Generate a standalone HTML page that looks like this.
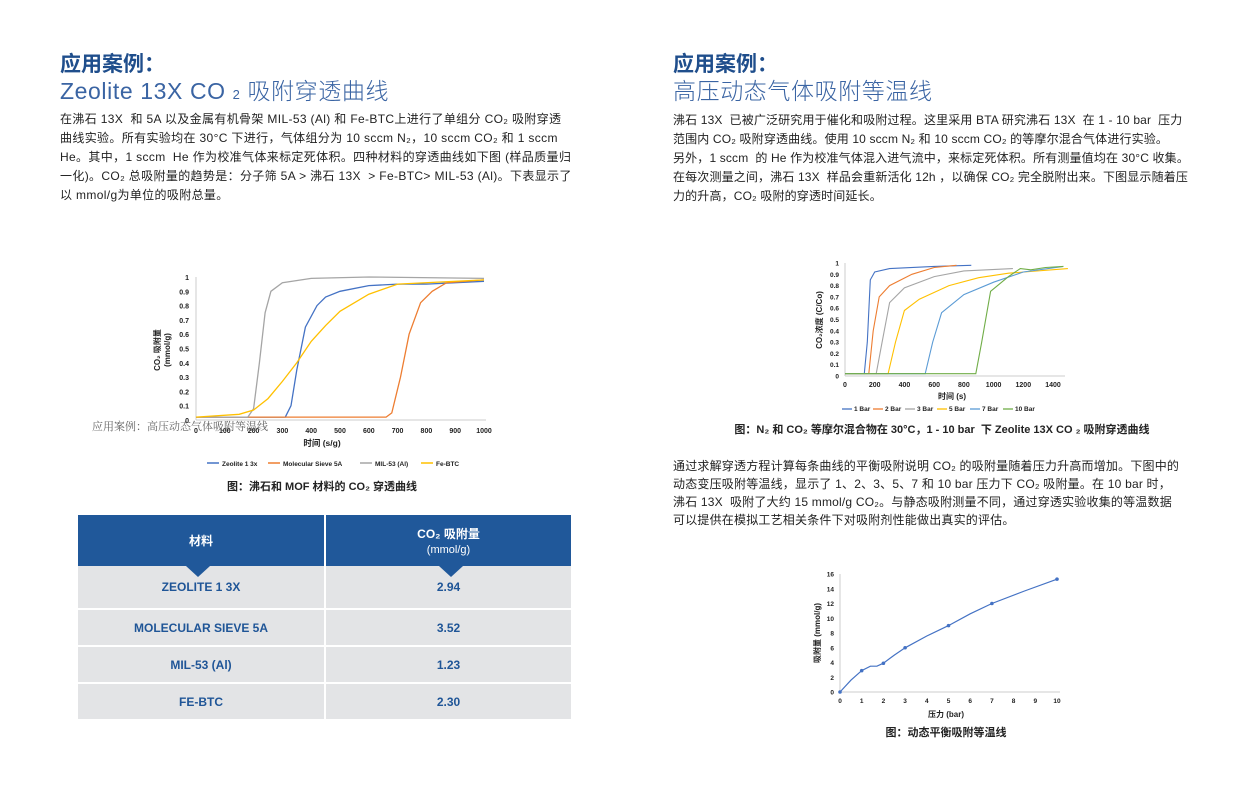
<!DOCTYPE html>
<html><head><meta charset="utf-8"><style>
body{margin:0;width:1235px;height:800px;background:#fff;position:relative;overflow:hidden;font-family:"Liberation Sans","Noto Sans CJK SC",sans-serif;color:#222}
.a{position:absolute;white-space:nowrap}
.h1{font-size:21px;font-weight:bold;color:#1f4e8c}
.h2{font-size:23px;color:#3a64a3;font-weight:300;letter-spacing:0.6px}
.p{font-size:12px;line-height:19px;color:#222;letter-spacing:0.35px}
.cap{font-size:11px;font-weight:bold;color:#222}
table{position:absolute;left:76px;top:515px;width:497px;border-collapse:separate;border-spacing:2px 0;font-weight:bold;color:#1f5597;font-size:12px;text-align:center}
</style></head><body>
<div class="a h1" style="left:60px;top:48px">应用案例：</div>
<div class="a h2" style="left:60px;top:72px">Zeolite 13X CO <span style="font-size:13px">2</span> 吸附穿透曲线</div>
<div class="a p" style="left:60px;top:110px">在沸石 13X&nbsp; 和 5A 以及金属有机骨架 MIL-53 (Al) 和 Fe-BTC上进行了单组分 CO₂ 吸附穿透<br>曲线实验。所有实验均在 30°C 下进行，气体组分为 10 sccm N₂，10 sccm CO₂ 和 1 sccm<br>He。其中，1 sccm&nbsp; He 作为校准气体来标定死体积。四种材料的穿透曲线如下图 (样品质量归<br>一化)。CO₂ 总吸附量的趋势是：分子筛 5A &gt; 沸石 13X&nbsp; &gt; Fe-BTC&gt; MIL-53 (Al)。下表显示了<br>以 mmol/g为单位的吸附总量。</div>

<div class="a h1" style="left:673px;top:48px">应用案例：</div>
<div class="a h2" style="left:673px;top:72px">高压动态气体吸附等温线</div>
<div class="a p" style="left:673px;top:111px;letter-spacing:0.15px">沸石 13X&nbsp; 已被广泛研究用于催化和吸附过程。这里采用 BTA 研究沸石 13X&nbsp; 在 1 - 10 bar&nbsp; 压力<br>范围内 CO₂ 吸附穿透曲线。使用 10 sccm N₂ 和 10 sccm CO₂ 的等摩尔混合气体进行实验。<br>另外，1 sccm&nbsp; 的 He 作为校准气体混入进气流中，来标定死体积。所有测量值均在 30°C 收集。<br>在每次测量之间，沸石 13X&nbsp; 样品会重新活化 12h ，以确保 CO₂ 完全脱附出来。下图显示随着压<br>力的升高，CO₂ 吸附的穿透时间延长。</div>
<div class="a p" style="left:673px;top:457px;line-height:18px;letter-spacing:0.2px">通过求解穿透方程计算每条曲线的平衡吸附说明 CO₂ 的吸附量随着压力升高而增加。下图中的<br>动态变压吸附等温线，显示了 1、2、3、5、7 和 10 bar 压力下 CO₂ 吸附量。在 10 bar 时，<br>沸石 13X&nbsp; 吸附了大约 15 mmol/g CO₂。与静态吸附测量不同，通过穿透实验收集的等温数据<br>可以提供在模拟工艺相关条件下对吸附剂性能做出真实的评估。</div>

<svg class="a" style="left:0;top:0" width="1235" height="800" id="sv" font-family="Liberation Sans,Noto Sans CJK SC,sans-serif"></svg>

<div class="a" style="left:92px;top:418px;font-size:11px;color:#666;font-family:'Liberation Serif','Noto Serif CJK SC',serif">应用案例：高压动态气体吸附等温线</div>
<div class="a cap" style="left:322px;top:478px;transform:translateX(-50%)">图：沸石和 MOF 材料的 CO₂ 穿透曲线</div>
<div class="a cap" style="left:942px;top:421px;transform:translateX(-50%)">图：N₂ 和 CO₂ 等摩尔混合物在 30°C，1 - 10 bar&nbsp; 下 Zeolite 13X CO ₂ 吸附穿透曲线</div>
<div class="a cap" style="left:946px;top:724px;transform:translateX(-50%)">图：动态平衡吸附等温线</div>

<table>
<tr style="background:#20589a;color:#fff;height:51px"><td style="width:244px">材料</td><td>CO₂ 吸附量<br><span style="font-weight:normal;font-size:11px">(mmol/g)</span></td></tr>
<tr style="background:#e3e4e6;height:42px"><td>ZEOLITE 1 3X</td><td>2.94</td></tr>
<tr><td colspan="2" style="height:2px;padding:0"></td></tr>
<tr style="background:#e3e4e6;height:35px"><td>MOLECULAR SIEVE 5A</td><td>3.52</td></tr>
<tr><td colspan="2" style="height:2px;padding:0"></td></tr>
<tr style="background:#e3e4e6;height:35px"><td>MIL-53 (Al)</td><td>1.23</td></tr>
<tr><td colspan="2" style="height:2px;padding:0"></td></tr>
<tr style="background:#e3e4e6;height:35px"><td>FE-BTC</td><td>2.30</td></tr>
</table>
<svg class="a" style="left:0;top:0" width="1235" height="800"><polygon points="186,566 210,566 198,577" fill="#20589a"/><polygon points="439,566 463,566 451,577" fill="#20589a"/></svg>

<script>
var s='',NS=document.getElementById('sv');
function t(x,y,str,o){o=o||{};s+='<text x="'+x+'" y="'+y+'" font-size="'+(o.fs||8)+'" font-weight="bold" fill="#222" text-anchor="'+(o.a||'middle')+'"'+(o.tr?' transform="'+o.tr+'"':'')+'>'+str+'</text>';}
function line(pts,col,X,Y,w){s+='<polyline fill="none" stroke="'+col+'" stroke-width="'+(w||1.3)+'" points="'+pts.map(function(p){return X(p[0]).toFixed(1)+','+Y(p[1]).toFixed(1)}).join(' ')+'"/>';}
var X1=function(v){return 196+v*0.288},Y1=function(v){return 420-v*143};
s+='<line x1="196" y1="277" x2="196" y2="420" stroke="#ccc"/><line x1="196" y1="420" x2="486" y2="420" stroke="#ccc"/>';
for(var i=0;i<=10;i++){t(189,Y1(i/10)+3,i==10?'1':(i==0?'0':(i/10).toFixed(1)),{a:'end',fs:7});t(X1(i*100),433,i*100,{fs:7});}
t(322,446,'时间 (s/g)',{fs:8.5});
t(160,350,'CO₂ 吸附量',{fs:8,tr:'rotate(-90 160 350)'});t(170,350,'(mmol/g)',{fs:8,tr:'rotate(-90 170 350)'});
line([[0,.02],[300,.02],[310,.02],[330,.1],[350,.35],[380,.65],[420,.8],[450,.86],[500,.9],[600,.94],[700,.95],[800,.95],[1000,.97]],'#4472c4',X1,Y1);
line([[0,.02],[660,.02],[680,.05],[710,.3],[740,.6],[780,.82],[820,.9],[870,.96],[1000,.98]],'#ed7d31',X1,Y1);
line([[0,.02],[180,.02],[200,.08],[220,.4],[240,.75],[260,.9],[300,.96],[400,.99],[600,1],[1000,.99]],'#a5a5a5',X1,Y1);
line([[0,.02],[150,.04],[200,.07],[250,.15],[300,.27],[350,.4],[400,.55],[450,.66],[500,.76],[600,.88],[700,.95],[1000,.98]],'#ffc000',X1,Y1);
var lg=[['Zeolite 1 3x','#4472c4',207],['Molecular Sieve 5A','#ed7d31',268],['MIL-53 (Al)','#a5a5a5',360],['Fe-BTC','#ffc000',421]];
lg.forEach(function(l){s+='<line x1="'+l[2]+'" y1="463" x2="'+(l[2]+12)+'" y2="463" stroke="'+l[1]+'" stroke-width="1.5"/>';t(l[2]+15,466,l[0],{a:'start',fs:6.5});});
var X2=function(v){return 845+v*0.1486},Y2=function(v){return 376-v*113};
s+='<line x1="845" y1="263" x2="845" y2="376" stroke="#ccc"/><line x1="845" y1="376" x2="1065" y2="376" stroke="#ccc"/>';
for(i=0;i<=10;i++)t(839,Y2(i/10)+2.5,i==10?'1':(i==0?'0':(i/10).toFixed(1)),{a:'end',fs:6.5});
for(i=0;i<=7;i++)t(X2(i*200),387,i*200,{fs:7});
t(952,399,'时间 (s)',{fs:8});t(822,320,'CO₂浓度 (C/Co)',{fs:8,tr:'rotate(-90 822 320)'});
var c2=[['1 Bar','#4472c4',[[0,.02],[130,.02],[150,.3],[170,.85],[200,.92],[300,.95],[600,.97],[850,.98]]],
['2 Bar','#ed7d31',[[0,.02],[160,.02],[190,.4],[230,.7],[300,.8],[450,.9],[600,.96],[750,.98]]],
['3 Bar','#a5a5a5',[[0,.02],[210,.02],[250,.3],[300,.65],[400,.78],[600,.88],[800,.93],[1130,.95]]],
['5 Bar','#ffc000',[[0,.02],[290,.02],[340,.3],[400,.58],[500,.68],[700,.8],[900,.87],[1100,.91],[1500,.95]]],
['7 Bar','#5b9bd5',[[0,.02],[540,.02],[590,.3],[650,.56],[800,.72],[1000,.83],[1200,.92],[1470,.97]]],
['10 Bar','#70ad47',[[0,.02],[880,.02],[920,.3],[980,.75],[1100,.88],[1180,.95],[1250,.94],[1350,.96],[1470,.97]]]];
var lx=[842,873,905,937,970,1003];
c2.forEach(function(c,k){line(c[2],c[1],X2,Y2,1.1);s+='<line x1="'+lx[k]+'" y1="409" x2="'+(lx[k]+10)+'" y2="409" stroke="'+c[1]+'" stroke-width="1.3"/>';t(lx[k]+12,411,c[0],{a:'start',fs:6.5});});
var X3=function(v){return 840+v*21.7},Y3=function(v){return 692-v*7.375};
s+='<line x1="840" y1="574" x2="840" y2="692" stroke="#ccc"/><line x1="840" y1="692" x2="1060" y2="692" stroke="#ccc"/>';
for(i=0;i<=16;i+=2)t(834,Y3(i)+2.5,i,{a:'end',fs:6.5});
for(i=0;i<=10;i++)t(X3(i),703,i,{fs:6.5});
t(946,717,'压力 (bar)',{fs:8});t(820,633,'吸附量 (mmol/g)',{fs:8,tr:'rotate(-90 820 633)'});
line([[0,0],[0.5,1.6],[1,2.9],[1.4,3.5],[1.7,3.5],[2,3.9],[2.5,5],[3,6],[4,7.6],[5,9],[6,10.6],[7,12],[8.5,13.7],[10,15.3]],'#4472c4',X3,Y3,1.2);
[[0,0],[1,2.9],[2,3.9],[3,6],[5,9],[7,12],[10,15.3]].forEach(function(p){s+='<circle cx="'+X3(p[0])+'" cy="'+Y3(p[1])+'" r="1.8" fill="#4472c4"/>';});
NS.innerHTML=s;
</script>
</body></html>
